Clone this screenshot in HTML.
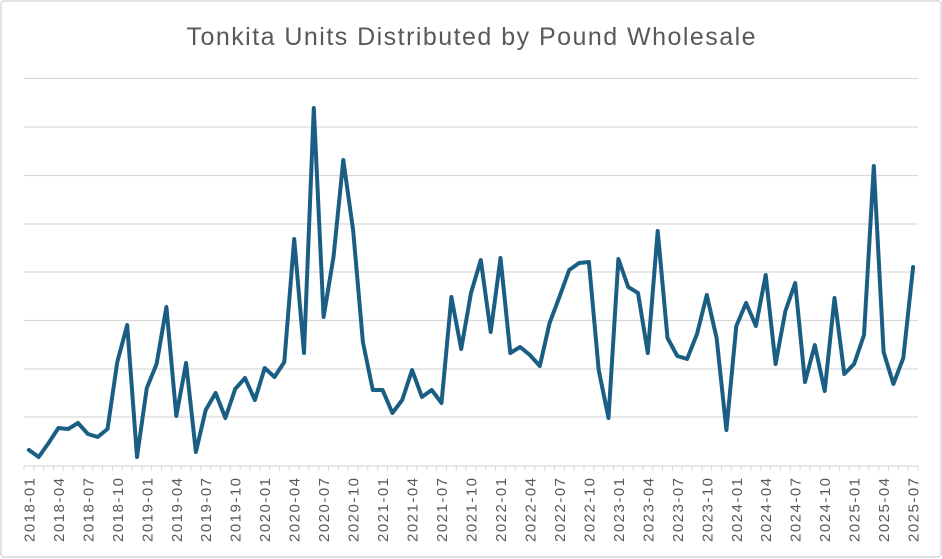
<!DOCTYPE html>
<html><head><meta charset="utf-8"><style>
html,body{margin:0;padding:0;background:#fff;}
svg{display:block;}
</style></head><body>
<svg width="942" height="559" viewBox="0 0 942 559" xmlns="http://www.w3.org/2000/svg" font-family="Liberation Sans, sans-serif">
<rect x="1" y="1" width="940" height="556" fill="#fff" stroke="#d9d9d9" stroke-width="1.5" rx="3"/>
<text x="471" y="45" text-anchor="middle" font-size="25" fill="#595959" textLength="569" lengthAdjust="spacing">Tonkita Units Distributed by Pound Wholesale</text>
<g stroke="#d9d9d9" stroke-width="1.3">
<line x1="24" x2="918" y1="78.5" y2="78.5"/>
<line x1="24" x2="918" y1="127" y2="127"/>
<line x1="24" x2="918" y1="175.5" y2="175.5"/>
<line x1="24" x2="918" y1="224" y2="224"/>
<line x1="24" x2="918" y1="272" y2="272"/>
<line x1="24" x2="918" y1="320.5" y2="320.5"/>
<line x1="24" x2="918" y1="369" y2="369"/>
<line x1="24" x2="918" y1="417" y2="417"/>
<line x1="24" x2="918" y1="466" y2="466"/>
</g>
<line x1="23.5" x2="919" y1="468.5" y2="468.5" stroke="#d9d9d9" stroke-width="5" stroke-dasharray="1 8.8242"/>
<g font-size="15" fill="#595959" text-anchor="end">
<text transform="translate(34.4,478) rotate(-90)" textLength="64">2018-01</text>
<text transform="translate(63.9,478) rotate(-90)" textLength="64">2018-04</text>
<text transform="translate(93.4,478) rotate(-90)" textLength="64">2018-07</text>
<text transform="translate(122.8,478) rotate(-90)" textLength="64">2018-10</text>
<text transform="translate(152.3,478) rotate(-90)" textLength="64">2019-01</text>
<text transform="translate(181.8,478) rotate(-90)" textLength="64">2019-04</text>
<text transform="translate(211.2,478) rotate(-90)" textLength="64">2019-07</text>
<text transform="translate(240.7,478) rotate(-90)" textLength="64">2019-10</text>
<text transform="translate(270.2,478) rotate(-90)" textLength="64">2020-01</text>
<text transform="translate(299.7,478) rotate(-90)" textLength="64">2020-04</text>
<text transform="translate(329.1,478) rotate(-90)" textLength="64">2020-07</text>
<text transform="translate(358.6,478) rotate(-90)" textLength="64">2020-10</text>
<text transform="translate(388.1,478) rotate(-90)" textLength="64">2021-01</text>
<text transform="translate(417.6,478) rotate(-90)" textLength="64">2021-04</text>
<text transform="translate(447.0,478) rotate(-90)" textLength="64">2021-07</text>
<text transform="translate(476.5,478) rotate(-90)" textLength="64">2021-10</text>
<text transform="translate(506.0,478) rotate(-90)" textLength="64">2022-01</text>
<text transform="translate(535.4,478) rotate(-90)" textLength="64">2022-04</text>
<text transform="translate(564.9,478) rotate(-90)" textLength="64">2022-07</text>
<text transform="translate(594.4,478) rotate(-90)" textLength="64">2022-10</text>
<text transform="translate(623.9,478) rotate(-90)" textLength="64">2023-01</text>
<text transform="translate(653.3,478) rotate(-90)" textLength="64">2023-04</text>
<text transform="translate(682.8,478) rotate(-90)" textLength="64">2023-07</text>
<text transform="translate(712.3,478) rotate(-90)" textLength="64">2023-10</text>
<text transform="translate(741.8,478) rotate(-90)" textLength="64">2024-01</text>
<text transform="translate(771.2,478) rotate(-90)" textLength="64">2024-04</text>
<text transform="translate(800.7,478) rotate(-90)" textLength="64">2024-07</text>
<text transform="translate(830.2,478) rotate(-90)" textLength="64">2024-10</text>
<text transform="translate(859.6,478) rotate(-90)" textLength="64">2025-01</text>
<text transform="translate(889.1,478) rotate(-90)" textLength="64">2025-04</text>
<text transform="translate(918.6,478) rotate(-90)" textLength="64">2025-07</text>
</g>
<polyline fill="none" stroke="#1a5f83" stroke-width="4" stroke-linejoin="round" stroke-linecap="round" points="28.9,450 38.7,457 48.6,443 58.4,428 68.2,429 78.0,423 87.9,434 97.7,437 107.5,429 117.3,362 127.2,325 137.0,457 146.8,388 156.6,364 166.4,307 176.3,416 186.1,363 195.9,452 205.7,410 215.6,393 225.4,418 235.2,389 245.0,378 254.9,400 264.7,368 274.5,377 284.3,362 294.2,239 304.0,353 313.8,108 323.6,317 333.5,257 343.3,160 353.1,230 362.9,342 372.8,390 382.6,390 392.4,413 402.2,400 412.1,370 421.9,397 431.7,390 441.5,403 451.4,297 461.2,349 471.0,293 480.8,260 490.7,332 500.5,258 510.3,353 520.1,347 529.9,355 539.8,366 549.6,323 559.4,297 569.2,270 579.1,263 588.9,262 598.7,370 608.5,418 618.4,259 628.2,287 638.0,293 647.8,353 657.7,231 667.5,338 677.3,356 687.1,359 697.0,334 706.8,295 716.6,338 726.4,430 736.3,326 746.1,303 755.9,326 765.7,275 775.6,364 785.4,311 795.2,283 805.0,382 814.8,345 824.7,391 834.5,298 844.3,374 854.1,364 864.0,335 873.8,166 883.6,352 893.4,384 903.3,358 913.1,267"/>
</svg>
</body></html>
